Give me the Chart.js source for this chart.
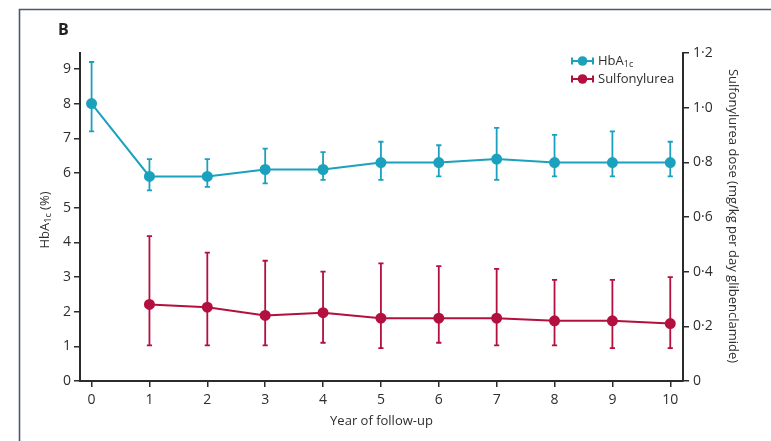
<!DOCTYPE html>
<html>
<head>
<meta charset="utf-8">
<script src="https://cdn.jsdelivr.net/npm/chart.js@4.4.1/dist/chart.umd.min.js"></script>
<style>
  html, body { margin: 0; padding: 0; background: #ffffff; }
  #wrap { width: 771px; height: 441px; }
</style>
</head>
<body>
<div id="wrap"><canvas id="c" width="771" height="441"></canvas></div>
<script>
// ---- Data ----
const hbaYears = [0, 1, 2, 3, 4, 5, 6, 7, 8, 9, 10];
const hbaMean  = [8.0, 5.9, 5.9, 6.1, 6.1, 6.3, 6.3, 6.4, 6.3, 6.3, 6.3];
const hbaUpper = [9.2, 6.4, 6.4, 6.7, 6.6, 6.9, 6.8, 7.3, 7.1, 7.2, 6.9];
const hbaLower = [7.2, 5.5, 5.6, 5.7, 5.8, 5.8, 5.9, 5.8, 5.9, 5.9, 5.9];

const sulYears = [1, 2, 3, 4, 5, 6, 7, 8, 9, 10];
const sulMean  = [0.28, 0.27, 0.24, 0.25, 0.23, 0.23, 0.23, 0.22, 0.22, 0.21];
const sulUpper = [0.53, 0.47, 0.44, 0.40, 0.43, 0.42, 0.41, 0.37, 0.37, 0.38];
const sulLower = [0.13, 0.13, 0.13, 0.14, 0.12, 0.14, 0.13, 0.13, 0.12, 0.12];

const xTicks     = [0, 1, 2, 3, 4, 5, 6, 7, 8, 9, 10];
const leftTicks  = [0, 1, 2, 3, 4, 5, 6, 7, 8, 9];
const rightTicks = [0, 0.2, 0.4, 0.6, 0.8, 1.0, 1.2];

const panelLabel = 'B';
const xTitle = 'Year of follow-up';
const rightTitle = 'Sulfonylurea dose (mg/kg per day glibenclamide)';

// ---- Styles ----
const TEAL = '#1ba1bd';
const RED = '#b3103f';
const AXIS = '#2b2b2b';
const TEXT = '#2e2e2e';
const FONT = "'Liberation Sans Narrow', 'Open Sans', sans-serif";

function toPts(xs, ys) { return xs.map((x, i) => ({ x: x, y: ys[i] })); }

const errorBars = {
  id: 'errorBars',
  beforeDatasetDraw(chart, args) {
    const ds = chart.data.datasets[args.index];
    if (!ds.errLow) return;
    const meta = chart.getDatasetMeta(args.index);
    const xs = chart.scales.x;
    const ys = chart.scales[meta.yAxisID];
    const ctx = chart.ctx;
    ctx.save();
    ctx.strokeStyle = ds.borderColor;
    ctx.lineWidth = 1.8;
    ds.data.forEach((p, i) => {
      const px = xs.getPixelForValue(p.x);
      const yHi = ys.getPixelForValue(ds.errHigh[i]);
      const yLo = ys.getPixelForValue(ds.errLow[i]);
      ctx.beginPath();
      ctx.moveTo(px, yHi); ctx.lineTo(px, yLo);
      ctx.moveTo(px - 2.6, yHi); ctx.lineTo(px + 2.6, yHi);
      ctx.moveTo(px - 2.6, yLo); ctx.lineTo(px + 2.6, yLo);
      ctx.stroke();
    });
    ctx.restore();
  }
};

function drawSubText(ctx, parts, x, y) {
  let cx = x;
  parts.forEach(p => {
    ctx.font = p.sub ? '9px ' + FONT : '13px ' + FONT;
    ctx.fillText(p.t, cx, p.sub ? y + 3 : y);
    cx += ctx.measureText(p.t).width;
  });
  return cx - x;
}
function measureSub(ctx, parts) {
  let w = 0;
  parts.forEach(p => {
    ctx.font = p.sub ? '9px ' + FONT : '13px ' + FONT;
    w += ctx.measureText(p.t).width;
  });
  return w;
}

const decorations = {
  id: 'decorations',
  afterDraw(chart) {
    const ctx = chart.ctx;
    const xs = chart.scales.x;
    ctx.save();
    // frame
    ctx.strokeStyle = '#4c5873';
    ctx.lineWidth = 1.6;
    ctx.beginPath();
    ctx.moveTo(19.5, 441); ctx.lineTo(19.5, 9.5); ctx.lineTo(771, 9.5);
    ctx.stroke();

    ctx.fillStyle = '#222';
    ctx.textBaseline = 'middle';
    ctx.textAlign = 'left';
    // panel label
    ctx.font = 'bold 16px ' + FONT;
    ctx.fillText(panelLabel, 58, 30);

    // x title
    ctx.fillStyle = TEXT;
    ctx.font = '13px ' + FONT;
    ctx.textAlign = 'center';
    ctx.fillText(xTitle, (xs.left + xs.right) / 2, 421);

    // left title (rotated, with subscript)
    const leftParts = [{ t: 'HbA' }, { t: '1c', sub: true }, { t: ' (%)' }];
    ctx.textAlign = 'left';
    const lw = measureSub(ctx, leftParts);
    ctx.save();
    ctx.translate(45, 220);
    ctx.rotate(-Math.PI / 2);
    drawSubText(ctx, leftParts, -lw / 2, 0);
    ctx.restore();

    // right title
    ctx.save();
    ctx.translate(733, 216);
    ctx.rotate(Math.PI / 2);
    ctx.font = '13px ' + FONT;
    ctx.textAlign = 'center';
    ctx.fillText(rightTitle, 0, 0);
    ctx.restore();

    // legend
    const items = [
      { color: TEAL, parts: [{ t: 'HbA' }, { t: '1c', sub: true }], y: 61 },
      { color: RED, parts: [{ t: 'Sulfonylurea' }], y: 79 }
    ];
    items.forEach(it => {
      ctx.strokeStyle = it.color;
      ctx.fillStyle = it.color;
      ctx.lineWidth = 2;
      ctx.beginPath();
      ctx.moveTo(572, it.y); ctx.lineTo(593, it.y);
      ctx.moveTo(572, it.y - 3.5); ctx.lineTo(572, it.y + 3.5);
      ctx.moveTo(593, it.y - 3.5); ctx.lineTo(593, it.y + 3.5);
      ctx.stroke();
      ctx.beginPath();
      ctx.arc(582.5, it.y, 4.8, 0, Math.PI * 2);
      ctx.fill();
      ctx.fillStyle = TEXT;
      ctx.textAlign = 'left';
      drawSubText(ctx, it.parts, 598, it.y);
    });
    ctx.restore();
  }
};

const tickFont = { family: FONT, size: 14 };

new Chart(document.getElementById('c'), {
  type: 'line',
  data: {
    datasets: [
      {
        label: 'HbA1c',
        data: toPts(hbaYears, hbaMean),
        errLow: hbaLower, errHigh: hbaUpper,
        borderColor: TEAL, backgroundColor: TEAL,
        pointBackgroundColor: TEAL, pointBorderColor: TEAL,
        borderWidth: 2, pointRadius: 4.5, yAxisID: 'y'
      },
      {
        label: 'Sulfonylurea',
        data: toPts(sulYears, sulMean),
        errLow: sulLower, errHigh: sulUpper,
        borderColor: RED, backgroundColor: RED,
        pointBackgroundColor: RED, pointBorderColor: RED,
        borderWidth: 2, pointRadius: 4.5, yAxisID: 'y2'
      }
    ]
  },
  options: {
    responsive: false,
    animation: false,
    layout: { padding: { top: 53, left: 0, right: 0, bottom: 0 } },
    plugins: { legend: { display: false }, tooltip: { enabled: false } },
    scales: {
      x: {
        type: 'linear', min: -0.2, max: 10.22,
        afterBuildTicks(s) { s.ticks = xTicks.map(v => ({ value: v })); },
        afterFit(s) { s.height = 60; },
        grid: { drawOnChartArea: false, drawTicks: true, tickLength: 6, color: AXIS, lineWidth: 1.5 },
        border: { display: true, color: AXIS, width: 2 },
        ticks: { color: TEXT, font: tickFont, padding: 5, maxRotation: 0, autoSkip: false,
                 callback: v => String(v) }
      },
      y: {
        type: 'linear', position: 'left', min: 0, max: 9.46,
        afterBuildTicks(s) { s.ticks = leftTicks.map(v => ({ value: v })); },
        afterFit(s) { s.width = 80; },
        grid: { drawOnChartArea: false, drawTicks: true, tickLength: 6, color: AXIS, lineWidth: 1.5 },
        border: { display: true, color: AXIS, width: 2 },
        ticks: { color: TEXT, font: tickFont, padding: 3, callback: v => String(v) }
      },
      y2: {
        type: 'linear', position: 'right', min: 0, max: 1.2,
        afterBuildTicks(s) { s.ticks = rightTicks.map(v => ({ value: v })); },
        afterFit(s) { s.width = 88; },
        grid: { drawOnChartArea: false, drawTicks: true, tickLength: 6, color: AXIS, lineWidth: 1.5 },
        border: { display: true, color: AXIS, width: 2 },
        ticks: { color: TEXT, font: tickFont, padding: 4,
                 callback: v => (v === 0 ? '0' : Number(v).toFixed(1).replace('.', '\u00B7')) }
      }
    }
  },
  plugins: [errorBars, decorations]
});
</script>
</body>
</html>
